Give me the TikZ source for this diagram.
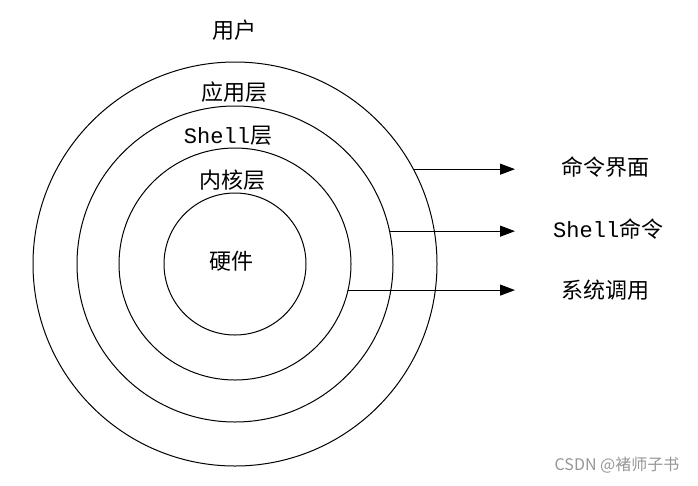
\documentclass[tikz,border=0pt]{standalone}
\usepackage{fontspec}
\usepackage{tikz}
\usetikzlibrary{arrows.meta, positioning, shapes}
\setmainfont{Noto Sans CJK SC}
\newfontfamily\cjk{Noto Sans CJK SC}
\newfontfamily\latinmono{Liberation Mono}
\newcommand{\shellword}{{\latinmono Shell}}
\definecolor{markgray}{RGB}{150, 150, 150}

\begin{document}
\begin{tikzpicture}[x=1pt,y=-1pt,
          ring/.style={draw,circle,line width=1pt,inner sep=0pt,outer sep=0pt},
          lbl/.style={inner sep=0pt,font=\fontsize{22}{26}\selectfont\cjk},
          arr/.style={-{Triangle[length=15pt,width=11pt]},line width=1.1pt,shorten >=46pt}]
        \useasboundingbox (0,0) rectangle (698,485);
        \coordinate (c) at (235,264);
        \node[ring,minimum size=404pt](app) at (c){};
        \node[ring,minimum size=316pt](shl) at (c){};
        \node[ring,minimum size=232pt](krn) at (c){};
        \node[ring,minimum size=142pt](hw)  at (c){};
        \node[lbl](user) at (234,30){用户};
        \node[lbl](appl) at (234,92){应用层};
        \node[lbl](shll) at (228,136){\shellword 层};
        \node[lbl](krnl) at (232,180){内核层};
        \node[lbl](hwl)  at (231,261){硬件};
        \node[lbl,anchor=west](cmd) at (561,167){命令界面};
        \node[lbl,anchor=west](scmd) at (553,229){\shellword 命令};
        \node[lbl,anchor=west](sys) at (561,290){系统调用};
        \draw[arr](app.28.4)--(app.28.4 -| cmd.west);
        \draw[arr](shl.12.8)--(shl.12.8 -| cmd.west);
        \draw[arr](krn.-13)--(krn.-13 -| cmd.west);
        \node[inner sep=0pt,text=markgray,font=\fontsize{16}{18}\selectfont\cjk](mark) at (617,465){CSDN @褚师子书};
      \end{tikzpicture}
\end{document}
